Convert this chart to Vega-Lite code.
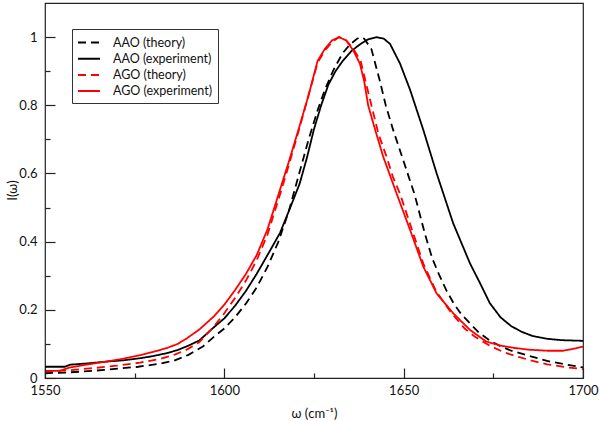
{
  "$schema": "https://vega.github.io/schema/vega-lite/v6.json",
  "width": 538,
  "height": 375,
  "autosize": {"type": "none"},
  "padding": {"left": 45, "top": 3, "right": 18, "bottom": 43},
  "background": "white",
  "config": {
    "view": {"stroke": "#222", "strokeWidth": 1.2},
    "font": "Lato",
    "axis": {"ticks": true}
  },
  "data": {"values": [
      {"s": "AAO (theory)", "w": 1550, "i": 0.014},
      {"s": "AAO (theory)", "w": 1556, "i": 0.016},
      {"s": "AAO (theory)", "w": 1562, "i": 0.02},
      {"s": "AAO (theory)", "w": 1568, "i": 0.025},
      {"s": "AAO (theory)", "w": 1576, "i": 0.033},
      {"s": "AAO (theory)", "w": 1582, "i": 0.042},
      {"s": "AAO (theory)", "w": 1586, "i": 0.051},
      {"s": "AAO (theory)", "w": 1590, "i": 0.068},
      {"s": "AAO (theory)", "w": 1594, "i": 0.092},
      {"s": "AAO (theory)", "w": 1597, "i": 0.12},
      {"s": "AAO (theory)", "w": 1600, "i": 0.145},
      {"s": "AAO (theory)", "w": 1603, "i": 0.178},
      {"s": "AAO (theory)", "w": 1606, "i": 0.218},
      {"s": "AAO (theory)", "w": 1609, "i": 0.265},
      {"s": "AAO (theory)", "w": 1612, "i": 0.325},
      {"s": "AAO (theory)", "w": 1615, "i": 0.398},
      {"s": "AAO (theory)", "w": 1618, "i": 0.49},
      {"s": "AAO (theory)", "w": 1621, "i": 0.605},
      {"s": "AAO (theory)", "w": 1623.5, "i": 0.7},
      {"s": "AAO (theory)", "w": 1626, "i": 0.785},
      {"s": "AAO (theory)", "w": 1628, "i": 0.845},
      {"s": "AAO (theory)", "w": 1630.5, "i": 0.905},
      {"s": "AAO (theory)", "w": 1633, "i": 0.953},
      {"s": "AAO (theory)", "w": 1635, "i": 0.978},
      {"s": "AAO (theory)", "w": 1637, "i": 0.995},
      {"s": "AAO (theory)", "w": 1638, "i": 1.0},
      {"s": "AAO (theory)", "w": 1639, "i": 0.995},
      {"s": "AAO (theory)", "w": 1641, "i": 0.965},
      {"s": "AAO (theory)", "w": 1643.4, "i": 0.87},
      {"s": "AAO (theory)", "w": 1645, "i": 0.8},
      {"s": "AAO (theory)", "w": 1647, "i": 0.73},
      {"s": "AAO (theory)", "w": 1650, "i": 0.635},
      {"s": "AAO (theory)", "w": 1653, "i": 0.54},
      {"s": "AAO (theory)", "w": 1656, "i": 0.42},
      {"s": "AAO (theory)", "w": 1658, "i": 0.35},
      {"s": "AAO (theory)", "w": 1660, "i": 0.3},
      {"s": "AAO (theory)", "w": 1662, "i": 0.255},
      {"s": "AAO (theory)", "w": 1664, "i": 0.218},
      {"s": "AAO (theory)", "w": 1666, "i": 0.188},
      {"s": "AAO (theory)", "w": 1668.5, "i": 0.16},
      {"s": "AAO (theory)", "w": 1671, "i": 0.133},
      {"s": "AAO (theory)", "w": 1674, "i": 0.11},
      {"s": "AAO (theory)", "w": 1677, "i": 0.093},
      {"s": "AAO (theory)", "w": 1680, "i": 0.08},
      {"s": "AAO (theory)", "w": 1685, "i": 0.065},
      {"s": "AAO (theory)", "w": 1690, "i": 0.05},
      {"s": "AAO (theory)", "w": 1695, "i": 0.04},
      {"s": "AAO (theory)", "w": 1700, "i": 0.031},
      {"s": "AAO (experiment)", "w": 1550, "i": 0.033},
      {"s": "AAO (experiment)", "w": 1555.5, "i": 0.033},
      {"s": "AAO (experiment)", "w": 1557, "i": 0.039},
      {"s": "AAO (experiment)", "w": 1562, "i": 0.043},
      {"s": "AAO (experiment)", "w": 1567, "i": 0.048},
      {"s": "AAO (experiment)", "w": 1572, "i": 0.052},
      {"s": "AAO (experiment)", "w": 1576.5, "i": 0.058},
      {"s": "AAO (experiment)", "w": 1580, "i": 0.064},
      {"s": "AAO (experiment)", "w": 1584, "i": 0.073},
      {"s": "AAO (experiment)", "w": 1587, "i": 0.082},
      {"s": "AAO (experiment)", "w": 1590, "i": 0.095},
      {"s": "AAO (experiment)", "w": 1593, "i": 0.11},
      {"s": "AAO (experiment)", "w": 1597, "i": 0.148},
      {"s": "AAO (experiment)", "w": 1600, "i": 0.175},
      {"s": "AAO (experiment)", "w": 1603, "i": 0.212},
      {"s": "AAO (experiment)", "w": 1606, "i": 0.255},
      {"s": "AAO (experiment)", "w": 1609, "i": 0.305},
      {"s": "AAO (experiment)", "w": 1612, "i": 0.36},
      {"s": "AAO (experiment)", "w": 1615.5, "i": 0.425},
      {"s": "AAO (experiment)", "w": 1618, "i": 0.49},
      {"s": "AAO (experiment)", "w": 1621, "i": 0.57},
      {"s": "AAO (experiment)", "w": 1623, "i": 0.645},
      {"s": "AAO (experiment)", "w": 1625, "i": 0.73},
      {"s": "AAO (experiment)", "w": 1627, "i": 0.8},
      {"s": "AAO (experiment)", "w": 1629, "i": 0.86},
      {"s": "AAO (experiment)", "w": 1631, "i": 0.9},
      {"s": "AAO (experiment)", "w": 1633, "i": 0.93},
      {"s": "AAO (experiment)", "w": 1635.5, "i": 0.96},
      {"s": "AAO (experiment)", "w": 1638, "i": 0.98},
      {"s": "AAO (experiment)", "w": 1640, "i": 0.993},
      {"s": "AAO (experiment)", "w": 1642.5, "i": 1.0},
      {"s": "AAO (experiment)", "w": 1644.5, "i": 0.995},
      {"s": "AAO (experiment)", "w": 1646.2, "i": 0.98},
      {"s": "AAO (experiment)", "w": 1649, "i": 0.922},
      {"s": "AAO (experiment)", "w": 1651.8, "i": 0.845},
      {"s": "AAO (experiment)", "w": 1655.5, "i": 0.727},
      {"s": "AAO (experiment)", "w": 1659.2, "i": 0.6},
      {"s": "AAO (experiment)", "w": 1663.8, "i": 0.454},
      {"s": "AAO (experiment)", "w": 1668.5, "i": 0.336},
      {"s": "AAO (experiment)", "w": 1671.3, "i": 0.278},
      {"s": "AAO (experiment)", "w": 1674, "i": 0.22},
      {"s": "AAO (experiment)", "w": 1677, "i": 0.178},
      {"s": "AAO (experiment)", "w": 1680, "i": 0.152},
      {"s": "AAO (experiment)", "w": 1683, "i": 0.135},
      {"s": "AAO (experiment)", "w": 1686, "i": 0.123},
      {"s": "AAO (experiment)", "w": 1690, "i": 0.115},
      {"s": "AAO (experiment)", "w": 1694, "i": 0.111},
      {"s": "AAO (experiment)", "w": 1700, "i": 0.109},
      {"s": "AGO (theory)", "w": 1550, "i": 0.019},
      {"s": "AGO (theory)", "w": 1556, "i": 0.022},
      {"s": "AGO (theory)", "w": 1562.5, "i": 0.028},
      {"s": "AGO (theory)", "w": 1570, "i": 0.036},
      {"s": "AGO (theory)", "w": 1576.5, "i": 0.045},
      {"s": "AGO (theory)", "w": 1582, "i": 0.056},
      {"s": "AGO (theory)", "w": 1586, "i": 0.068},
      {"s": "AGO (theory)", "w": 1589.5, "i": 0.083},
      {"s": "AGO (theory)", "w": 1593, "i": 0.105},
      {"s": "AGO (theory)", "w": 1597, "i": 0.15},
      {"s": "AGO (theory)", "w": 1600, "i": 0.19},
      {"s": "AGO (theory)", "w": 1603, "i": 0.235},
      {"s": "AGO (theory)", "w": 1606, "i": 0.285},
      {"s": "AGO (theory)", "w": 1609, "i": 0.345},
      {"s": "AGO (theory)", "w": 1612, "i": 0.42},
      {"s": "AGO (theory)", "w": 1615, "i": 0.52},
      {"s": "AGO (theory)", "w": 1618, "i": 0.625},
      {"s": "AGO (theory)", "w": 1621, "i": 0.735},
      {"s": "AGO (theory)", "w": 1623.5, "i": 0.83},
      {"s": "AGO (theory)", "w": 1626, "i": 0.925},
      {"s": "AGO (theory)", "w": 1628, "i": 0.96},
      {"s": "AGO (theory)", "w": 1630, "i": 0.985},
      {"s": "AGO (theory)", "w": 1632, "i": 1.0},
      {"s": "AGO (theory)", "w": 1634, "i": 0.99},
      {"s": "AGO (theory)", "w": 1636, "i": 0.965},
      {"s": "AGO (theory)", "w": 1638, "i": 0.93},
      {"s": "AGO (theory)", "w": 1641, "i": 0.8},
      {"s": "AGO (theory)", "w": 1643, "i": 0.715},
      {"s": "AGO (theory)", "w": 1645.2, "i": 0.65},
      {"s": "AGO (theory)", "w": 1647, "i": 0.59},
      {"s": "AGO (theory)", "w": 1649, "i": 0.54},
      {"s": "AGO (theory)", "w": 1652, "i": 0.445},
      {"s": "AGO (theory)", "w": 1655.5, "i": 0.335},
      {"s": "AGO (theory)", "w": 1659, "i": 0.255},
      {"s": "AGO (theory)", "w": 1663, "i": 0.195},
      {"s": "AGO (theory)", "w": 1667, "i": 0.145},
      {"s": "AGO (theory)", "w": 1670, "i": 0.12},
      {"s": "AGO (theory)", "w": 1674, "i": 0.095},
      {"s": "AGO (theory)", "w": 1678, "i": 0.075},
      {"s": "AGO (theory)", "w": 1682, "i": 0.062},
      {"s": "AGO (theory)", "w": 1686, "i": 0.05},
      {"s": "AGO (theory)", "w": 1690, "i": 0.04},
      {"s": "AGO (theory)", "w": 1695, "i": 0.032},
      {"s": "AGO (theory)", "w": 1700, "i": 0.026},
      {"s": "AGO (experiment)", "w": 1550, "i": 0.021},
      {"s": "AGO (experiment)", "w": 1554, "i": 0.021},
      {"s": "AGO (experiment)", "w": 1557, "i": 0.031},
      {"s": "AGO (experiment)", "w": 1562, "i": 0.04},
      {"s": "AGO (experiment)", "w": 1567, "i": 0.048},
      {"s": "AGO (experiment)", "w": 1572, "i": 0.057},
      {"s": "AGO (experiment)", "w": 1576.5, "i": 0.067},
      {"s": "AGO (experiment)", "w": 1580, "i": 0.076},
      {"s": "AGO (experiment)", "w": 1584, "i": 0.088},
      {"s": "AGO (experiment)", "w": 1587, "i": 0.1},
      {"s": "AGO (experiment)", "w": 1589.5, "i": 0.116},
      {"s": "AGO (experiment)", "w": 1593, "i": 0.142},
      {"s": "AGO (experiment)", "w": 1597, "i": 0.18},
      {"s": "AGO (experiment)", "w": 1600, "i": 0.215},
      {"s": "AGO (experiment)", "w": 1603, "i": 0.258},
      {"s": "AGO (experiment)", "w": 1606, "i": 0.305},
      {"s": "AGO (experiment)", "w": 1609, "i": 0.36},
      {"s": "AGO (experiment)", "w": 1612, "i": 0.435},
      {"s": "AGO (experiment)", "w": 1615, "i": 0.535},
      {"s": "AGO (experiment)", "w": 1618, "i": 0.635},
      {"s": "AGO (experiment)", "w": 1621, "i": 0.74},
      {"s": "AGO (experiment)", "w": 1623.5, "i": 0.83},
      {"s": "AGO (experiment)", "w": 1626, "i": 0.93},
      {"s": "AGO (experiment)", "w": 1628, "i": 0.965},
      {"s": "AGO (experiment)", "w": 1630, "i": 0.99},
      {"s": "AGO (experiment)", "w": 1632, "i": 1.0},
      {"s": "AGO (experiment)", "w": 1634, "i": 0.99},
      {"s": "AGO (experiment)", "w": 1636, "i": 0.96},
      {"s": "AGO (experiment)", "w": 1637.8, "i": 0.922},
      {"s": "AGO (experiment)", "w": 1639, "i": 0.87},
      {"s": "AGO (experiment)", "w": 1640.1, "i": 0.8},
      {"s": "AGO (experiment)", "w": 1642, "i": 0.73},
      {"s": "AGO (experiment)", "w": 1644.3, "i": 0.649},
      {"s": "AGO (experiment)", "w": 1646, "i": 0.6},
      {"s": "AGO (experiment)", "w": 1648, "i": 0.542},
      {"s": "AGO (experiment)", "w": 1651.8, "i": 0.434},
      {"s": "AGO (experiment)", "w": 1655.5, "i": 0.326},
      {"s": "AGO (experiment)", "w": 1659.2, "i": 0.248},
      {"s": "AGO (experiment)", "w": 1663.8, "i": 0.19},
      {"s": "AGO (experiment)", "w": 1668.5, "i": 0.141},
      {"s": "AGO (experiment)", "w": 1673, "i": 0.107},
      {"s": "AGO (experiment)", "w": 1677, "i": 0.095},
      {"s": "AGO (experiment)", "w": 1681, "i": 0.088},
      {"s": "AGO (experiment)", "w": 1685, "i": 0.083},
      {"s": "AGO (experiment)", "w": 1690, "i": 0.08},
      {"s": "AGO (experiment)", "w": 1694.4, "i": 0.08},
      {"s": "AGO (experiment)", "w": 1697, "i": 0.085},
      {"s": "AGO (experiment)", "w": 1700, "i": 0.092}
  ]},
  "resolve": {"axis": {"x": "independent", "y": "independent"}},
  "layer": [
    {
      "mark": {"type": "line", "opacity": 0},
      "encoding": {
        "x": {
          "field": "w",
          "type": "quantitative",
          "scale": {"domain": [1550, 1700], "nice": false, "zero": false},
          "axis": {
            "orient": "bottom",
            "values": [1575, 1625, 1675],
            "labels": false,
            "ticks": true,
            "grid": false,
            "domain": false,
            "offset": -5,
            "tickSize": 5,
            "tickColor": "#222",
            "tickWidth": 1.2,
            "zindex": 1,
            "title": null
          }
        },
        "y": {
          "field": "i",
          "type": "quantitative",
          "scale": {"domain": [0, 1.1], "nice": false, "zero": false},
          "axis": {
            "orient": "left",
            "values": [0.1, 0.3, 0.5, 0.7, 0.9],
            "labels": false,
            "ticks": true,
            "grid": false,
            "domain": false,
            "offset": -5,
            "tickSize": 5,
            "tickColor": "#222",
            "tickWidth": 1.2,
            "zindex": 1,
            "title": null
          }
        }
      }
    },
    {
      "mark": {"type": "line", "strokeWidth": 1.8},
      "encoding": {
        "x": {
          "field": "w",
          "type": "quantitative",
          "scale": {"domain": [1550, 1700], "nice": false, "zero": false},
          "axis": {
            "orient": "bottom",
            "values": [1550, 1600, 1650, 1700],
            "format": "d",
            "labelFlush": false,
            "ticks": true,
            "grid": false,
            "domain": false,
            "offset": -10,
            "tickSize": 10,
            "tickColor": "#222",
            "tickWidth": 1.2,
            "zindex": 1,
            "labelPadding": 6,
            "labelFontSize": 13,
            "labelColor": "#111",
            "title": "ω (cm⁻¹)",
            "titleFontSize": 13,
            "titleFontWeight": "normal",
            "titleColor": "#111",
            "titleY": 45,
            "titleBaseline": "middle"
          }
        },
        "y": {
          "field": "i",
          "type": "quantitative",
          "scale": {"domain": [0, 1.1], "nice": false, "zero": false},
          "axis": {
            "orient": "left",
            "values": [0, 0.2, 0.4, 0.6, 0.8, 1.0],
            "format": "~g",
            "labelFlush": false,
            "ticks": true,
            "grid": false,
            "domain": false,
            "offset": -10,
            "tickSize": 10,
            "tickColor": "#222",
            "tickWidth": 1.2,
            "zindex": 1,
            "labelPadding": 8,
            "labelFontSize": 13,
            "labelColor": "#111",
            "title": "I(ω)",
            "titleFontSize": 13,
            "titleFontWeight": "normal",
            "titleColor": "#111",
            "titleX": -43,
            "titleY": 187,
            "titleBaseline": "middle"
          }
        },
        "color": {
          "field": "s",
          "type": "nominal",
          "scale": {
            "domain": ["AAO (theory)", "AAO (experiment)", "AGO (theory)", "AGO (experiment)"],
            "range": ["#000000", "#000000", "#ff0000", "#ff0000"]
          },
          "legend": {
            "title": null,
            "orient": "none",
            "legendX": 27,
            "legendY": 26,
            "padding": 5,
            "strokeColor": "#333",
            "fillColor": "white",
            "symbolType": "M-1,0H1.93",
            "symbolSize": 225,
            "symbolStrokeWidth": 2,
            "labelFontSize": 12.5,
            "labelOffset": 19,
            "labelColor": "#111",
            "rowPadding": 1.2
          }
        },
        "strokeDash": {
          "field": "s",
          "type": "nominal",
          "scale": {
            "domain": ["AAO (theory)", "AAO (experiment)", "AGO (theory)", "AGO (experiment)"],
            "range": [[8, 5], [1, 0], [8, 5], [1, 0]]
          },
          "legend": {
            "title": null,
            "orient": "none",
            "legendX": 27,
            "legendY": 26,
            "padding": 5,
            "strokeColor": "#333",
            "fillColor": "white",
            "symbolType": "M-1,0H1.93",
            "symbolSize": 225,
            "symbolStrokeWidth": 2,
            "labelFontSize": 12.5,
            "labelOffset": 19,
            "labelColor": "#111",
            "rowPadding": 1.2
          }
        }
      }
    }
  ]
}
